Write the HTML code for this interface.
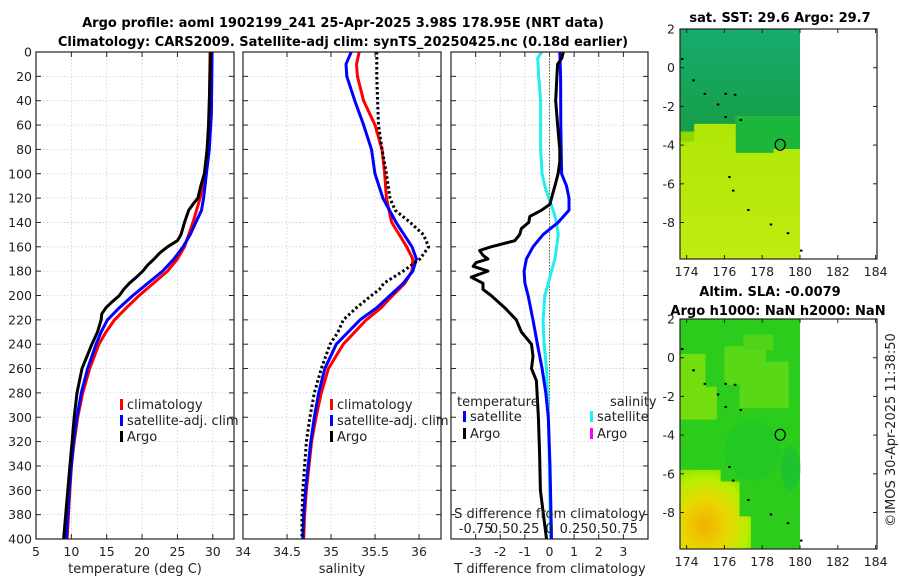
<!DOCTYPE html>
<html><head><meta charset="utf-8">
<style>
html,body{margin:0;padding:0;background:#fff;}
svg{display:block;font-family:"DejaVu Sans","Liberation Sans",sans-serif;}
</style></head>
<body>
<svg id="fig" width="900" height="580" viewBox="0 0 900 580" xmlns="http://www.w3.org/2000/svg">
<text x="343" y="27" font-size="13" font-weight="bold" text-anchor="middle">Argo profile: aoml 1902199_241 25-Apr-2025 3.98S 178.95E (NRT data)</text>
<text x="343" y="46" font-size="13" font-weight="bold" text-anchor="middle">Climatology: CARS2009. Satellite-adj clim: synTS_20250425.nc (0.18d earlier)</text>
<g id="panels"></g>
<g id="maps"></g>
<text transform="translate(895,430) rotate(-90)" font-size="13" text-anchor="middle" fill="#222">©IMOS 30-Apr-2025 11:38:50</text>
</svg>
<script>
// ---------- data ----------
const depthTicks=[0,20,40,60,80,100,120,140,160,180,200,220,240,260,280,300,320,340,360,380,400];
const tempTicks=[5,10,15,20,25,30];
const salTicks=[34,34.5,35,35.5,36];
const tdiffTicks=[-3,-2,-1,0,1,2,3];
const sdiffLabels=["-0.75","0.5","0.25","0","0.25","0.5","0.75"];

const tClimDepth=[0,50,80,100,120,140,150,160,170,180,190,200,210,220,230,240,260,280,300,320,340,360,380,400];
const tClim=[29.6,29.5,29.3,28.9,28.2,27.2,26.6,26,25,23.6,21.6,19.6,17.8,16.1,14.9,13.9,12.6,11.6,10.9,10.4,10,9.8,9.6,9.4];
const tSatDepth=[0,50,80,100,120,130,140,150,160,170,180,190,200,210,220,230,240,260,280,300,320,340,360,380,400];
const tSat=[29.9,29.8,29.5,29.1,28.7,28.4,27.6,26.8,25.8,24.5,22.9,20.8,18.7,16.8,15.1,14.2,13.5,12.3,11.4,10.8,10.3,10,9.7,9.5,9.3];
const tArgoDepth=[0,20,40,60,80,100,110,120,125,130,140,150,155,160,165,170,175,180,185,190,195,200,205,210,215,220,230,240,260,280,300,320,340,360,380,400];
const tArgo=[29.7,29.6,29.5,29.4,29.2,28.8,28.3,27.9,27.2,26.6,26,25.5,25,23.6,22.5,21.7,20.8,20.1,19.2,18.2,17.4,16.8,15.8,14.9,14.3,14.2,13.7,12.9,11.5,10.8,10.4,10.1,9.8,9.5,9.2,8.9];

const sDepth=[0,10,20,40,60,80,100,120,140,160,170,180,190,200,210,220,240,260,280,300,320,340,360,380,400];
const sClim=[35.32,35.29,35.3,35.37,35.5,35.58,35.61,35.63,35.69,35.86,35.93,35.92,35.84,35.7,35.57,35.4,35.14,34.97,34.89,34.83,34.78,34.75,34.72,34.7,34.69];
const sSat=[35.23,35.17,35.18,35.27,35.37,35.46,35.5,35.59,35.74,35.92,35.97,35.93,35.82,35.67,35.52,35.33,35.06,34.93,34.86,34.81,34.77,34.74,34.71,34.69,34.68];
const sArgoDepth=[0,20,40,60,80,100,120,130,140,150,160,170,180,190,195,200,210,220,230,240,260,280,300,320,340,360,380,400];
const sArgo=[35.52,35.52,35.53,35.54,35.58,35.63,35.67,35.73,35.9,36.05,36.11,36.01,35.82,35.6,35.55,35.46,35.29,35.14,35.08,34.99,34.89,34.81,34.76,34.72,34.7,34.68,34.67,34.67];

const dTSatDepth=[0,20,60,100,110,120,130,140,150,160,170,180,190,200,220,240,260,280,300,340,400];
const dTSat=[0.42,0.45,0.46,0.49,0.69,0.79,0.79,0.35,-0.26,-0.67,-0.94,-1.03,-1.0,-0.87,-0.67,-0.49,-0.3,-0.15,-0.05,0.02,0.08];
const dTArgoDepth=[0,5,10,20,40,60,80,90,100,110,120,125,130,135,140,145,150,155,160,163,167,170,173,176,180,185,190,195,200,210,220,230,240,250,260,270,300,330,360,400];
const dTArgo=[0.56,0.5,0.33,0.3,0.25,0.33,0.42,0.42,0.35,0.22,0.08,0.02,-0.33,-0.8,-0.84,-1.14,-1.21,-1.41,-2.37,-2.84,-2.7,-2.5,-2.98,-3.1,-2.5,-3.18,-2.7,-2.7,-2.37,-1.82,-1.35,-1.14,-0.73,-0.67,-0.73,-0.53,-0.45,-0.4,-0.37,-0.12];
const dSSatDepth=[0,5,20,40,60,80,100,110,120,130,140,150,160,170,180,190,200,220,240,260,300,350,400];
const dSSat=[-0.08,-0.12,-0.11,-0.09,-0.09,-0.09,-0.075,-0.048,-0.008,0.038,0.072,0.088,0.072,0.055,0.02,-0.012,-0.048,-0.065,-0.055,-0.03,-0.01,0.0,0.01];

// ---------- helpers ----------
const NS="http://www.w3.org/2000/svg";
function mk(parent,tag,attrs,text){const e=document.createElementNS(NS,tag);for(const k in attrs)e.setAttribute(k,attrs[k]);if(text!==undefined)e.textContent=text;parent.appendChild(e);return e;}
const Y0=52,Y1=539;
function yD(d){return Y0+d/400*(Y1-Y0);}
const panelsG=document.getElementById('panels');

function panel(name,x0,x1,dmin,dmax,ticks,labels,showY){
  const g=mk(panelsG,'g',{});
  
  
  const xs=v=>x0+(v-dmin)/(dmax-dmin)*(x1-x0);
  depthTicks.forEach((d,i)=>{
    if(i>0&&i<depthTicks.length-1){const gl=mk(g,'line',{x1:x0,x2:x1,y1:yD(d),y2:yD(d),stroke:'#c4cdec','stroke-width':0.8,'stroke-dasharray':'1.5,2'});
    
    }
    mk(g,'line',{x1:x0,x2:x0+5,y1:yD(d),y2:yD(d),stroke:'#222','stroke-width':1});
    mk(g,'line',{x1:x1-5,x2:x1,y1:yD(d),y2:yD(d),stroke:'#222','stroke-width':1});
    if(showY){const t=mk(g,'text',{x:x0-4,y:yD(d)+4.5,'font-size':12.5,'text-anchor':'end',fill:'#222'},String(d));
      
      }
  });
  ticks.forEach((v,i)=>{
    const x=xs(v);
    if(x>x0+1){const gl=mk(g,'line',{x1:x,x2:x,y1:Y0,y2:Y1,stroke:'#c4cdec','stroke-width':0.8,'stroke-dasharray':'1.5,2'});
    
    }
    mk(g,'line',{x1:x,x2:x,y1:Y1,y2:Y1-5,stroke:'#222'});
    mk(g,'line',{x1:x,x2:x,y1:Y0,y2:Y0+5,stroke:'#222'});
    const t=mk(g,'text',{x:x,y:556,'font-size':12.5,'text-anchor':'middle',fill:'#222'},labels[i]);
    
    
  });
  return {g,xs};
}
function line(g,name,xs,vals,depths,color,w,dash){
  const pts=vals.map((v,i)=>xs(v).toFixed(1)+','+yD(depths[i]).toFixed(1)).join(' ');
  const p=mk(g,'polyline',{points:pts,fill:'none',stroke:color,'stroke-width':w,'stroke-linejoin':'round'});
  if(dash)p.setAttribute('stroke-dasharray',dash);
  
  
}
function frame(g,x0,x1){mk(g,'rect',{x:x0,y:Y0,width:x1-x0,height:Y1-Y0,fill:'none',stroke:'#222','stroke-width':1.2});}
function legendItem(g,name,x,y,color,label){
  const e=mk(g,'g',{});
  
  
  mk(e,'rect',{x:x,y:y-10,width:3,height:11,fill:color});
  mk(e,'text',{x:x+7,y:y,'font-size':13,fill:'#222'},label);
}

// Panel 1
const p1=panel('temperature-panel',36,234,5,33,tempTicks,tempTicks.map(String),true);
line(p1.g,'temp-climatology-line',p1.xs,tClim,tClimDepth,'#f00',3);
line(p1.g,'temp-satellite-line',p1.xs,tSat,tSatDepth,'#00f',3);
line(p1.g,'temp-argo-line',p1.xs,tArgo,tArgoDepth,'#000',3);
frame(p1.g,36,234);
legendItem(p1.g,'legend-climatology',120,409,'#f00','climatology');
legendItem(p1.g,'legend-satellite',120,425,'#00f','satellite-adj. clim');
legendItem(p1.g,'legend-argo',120,441,'#000','Argo');
{const t=mk(p1.g,'text',{x:135,y:573,'font-size':13,'text-anchor':'middle',fill:'#222'},'temperature (deg C)');}

// Panel 2
const p2=panel('salinity-panel',243,441,34,36.25,salTicks,salTicks.map(String),false);
line(p2.g,'sal-climatology-line',p2.xs,sClim,sDepth,'#f00',3);
line(p2.g,'sal-satellite-line',p2.xs,sSat,sDepth,'#00f',3);
line(p2.g,'sal-argo-line',p2.xs,sArgo,sArgoDepth,'#000',3,'2.5,2.5');
frame(p2.g,243,441);
legendItem(p2.g,'legend-climatology-2',330,409,'#f00','climatology');
legendItem(p2.g,'legend-satellite-2',330,425,'#00f','satellite-adj. clim');
legendItem(p2.g,'legend-argo-2',330,441,'#000','Argo');
{const t=mk(p2.g,'text',{x:342,y:573,'font-size':13,'text-anchor':'middle',fill:'#222'},'salinity');}

// Panel 3
const p3=panel('difference-panel',451,648,-4,4,tdiffTicks,tdiffTicks.map(String),false);
const xsS=v=>p3.xs(v*4);
{const z=mk(p3.g,'line',{x1:p3.xs(0),x2:p3.xs(0),y1:Y0,y2:Y1,stroke:'#556b2f','stroke-width':1,'stroke-dasharray':'1.5,1.5'});}
line(p3.g,'salinity-diff-satellite-line',xsS,dSSat,dSSatDepth,'#22eeee',3);
line(p3.g,'temp-diff-satellite-line',p3.xs,dTSat,dTSatDepth,'#00f',3);
line(p3.g,'temp-diff-argo-line',p3.xs,dTArgo,dTArgoDepth,'#000',3);
frame(p3.g,451,648);
mk(p3.g,'text',{x:457,y:406,'font-size':13,fill:'#222'},'temperature');
mk(p3.g,'text',{x:610,y:406,'font-size':13,fill:'#222'},'salinity');
legendItem(p3.g,'legend-t-satellite',463,421,'#00f','satellite');
legendItem(p3.g,'legend-t-argo',463,438,'#000','Argo');
legendItem(p3.g,'legend-s-satellite',590,421,'#22eeee','satellite');
legendItem(p3.g,'legend-s-argo',590,438,'#f0f','Argo');
{const t=mk(p3.g,'text',{x:550,y:518,'font-size':13,'text-anchor':'middle',fill:'#222'},'S difference from climatology');}
tdiffTicks.forEach((v,i)=>{const t=mk(p3.g,'text',{x:p3.xs(v),y:533,'font-size':13,'text-anchor':'middle',fill:'#222'},sdiffLabels[i]);

});
{const t=mk(p3.g,'text',{x:550,y:573,'font-size':13,'text-anchor':'middle',fill:'#222'},'T difference from climatology');}

// ---------- maps ----------
const mapsG=document.getElementById('maps');
const lonTicks=[174,176,178,180,182,184];
const latTicks=[2,0,-2,-4,-6,-8];
const defs=mk(mapsG,'defs',{});
defs.innerHTML='<linearGradient id="sstTop" x1="0" y1="0" x2="0" y2="1"><stop offset="0" stop-color="#16ac6c"/><stop offset="1" stop-color="#169e48"/></linearGradient>'+
'<linearGradient id="sstBot" x1="0" y1="0" x2="0" y2="1"><stop offset="0" stop-color="#a4e200"/><stop offset="1" stop-color="#c0ec10"/></linearGradient>'+
'<radialGradient id="slaBlob" cx="0.35" cy="0.7" r="0.75"><stop offset="0" stop-color="#f2b000"/><stop offset="0.45" stop-color="#e8d800"/><stop offset="0.8" stop-color="#b8ee00"/><stop offset="1" stop-color="#90e400"/></radialGradient>';
function mapAxes(name,top){
  const g=mk(mapsG,'g',{});
  
  
  const x0=680,x1=877,bottom=top+230;
  const lx=v=>x0+(v-173.65)*18.9;
  const ly=v=>top+(2-v)*19.35;
  return {g,x0,x1,top,bottom,lx,ly};
}
function finishMap(m){
  const g=m.g;
  const c=mk(g,'ellipse',{cx:m.lx(178.95),cy:m.ly(-3.98),rx:5,ry:5.5,fill:'none',stroke:'#000','stroke-width':1.2});
  
  
  [[173.7,0.5],[174.3,-0.6],[174.9,-1.3],[175.6,-1.85],[176,-1.3],[176.5,-1.35],[176,-2.5],[176.8,-2.65],[176.2,-5.6],[176.4,-6.3],[177.2,-7.3],[178.4,-8.05],[179.3,-8.5],[180,-9.4]].forEach(p=>{
    mk(g,'rect',{x:m.lx(p[0]),y:m.ly(p[1]),width:2.5,height:2,fill:'#000'});
  });
  mk(g,'rect',{x:m.x0,y:m.top,width:m.x1-m.x0,height:m.bottom-m.top,fill:'none',stroke:'#222','stroke-width':1.2});
  lonTicks.forEach(v=>{const x=m.lx(v);
    mk(g,'line',{x1:x,x2:x,y1:m.bottom,y2:m.bottom-4,stroke:'#222'});
    mk(g,'line',{x1:x,x2:x,y1:m.top,y2:m.top+4,stroke:'#222'});
    const t=mk(g,'text',{x:x,y:m.bottom+17,'font-size':12.5,'text-anchor':'middle',fill:'#222'},String(v));
    
    });
  latTicks.forEach(v=>{const y=m.ly(v);
    mk(g,'line',{x1:m.x0,x2:m.x0+4,y1:y,y2:y,stroke:'#222'});
    mk(g,'line',{x1:m.x1-4,x2:m.x1,y1:y,y2:y,stroke:'#222'});
    const t=mk(g,'text',{x:m.x0-5,y:y+4.5,'font-size':12.5,'text-anchor':'end',fill:'#222'},String(v));
    
    });
}
// SST map
const m1=mapAxes('sst-map',29);
{const w=m1.lx(180)-m1.x0, h=m1.ly(-9.9)-m1.top;
 mk(m1.g,'rect',{x:m1.x0,y:m1.top,width:w,height:h,fill:'url(#sstBot)'});
 mk(m1.g,'path',{d:`M${m1.x0} ${m1.top} H${m1.lx(180)} V${m1.ly(-2.5)} H${m1.lx(176.6)} V${m1.ly(-2.9)} H${m1.lx(175)} V${m1.ly(-2.9)} H${m1.lx(174.4)} V${m1.ly(-3.3)} H${m1.x0} Z`,fill:'url(#sstTop)'});
 mk(m1.g,'path',{d:`M${m1.lx(176.6)} ${m1.ly(-2.5)} H${m1.lx(180)} V${m1.ly(-4.2)} H${m1.lx(178.6)} V${m1.ly(-4.4)} H${m1.lx(176.6)} Z`,fill:'#1cb63a'});
 mk(m1.g,'rect',{x:m1.x0,y:m1.ly(-3.3),width:m1.lx(174.4)-m1.x0,height:10,fill:'#8ed800'});
 const t=mk(m1.g,'text',{x:780,y:22,'font-size':13,'font-weight':'bold','text-anchor':'middle'},'sat. SST: 29.6 Argo: 29.7');
 }
finishMap(m1);
// SLA map
const m2=mapAxes('sla-map',319);
{const w=m2.lx(180)-m2.x0, h=m2.ly(-9.9)-m2.top;
 mk(m2.g,'rect',{x:m2.x0,y:m2.top,width:w,height:h,fill:'#2ccc1c'});
 mk(m2.g,'path',{d:`M${m2.x0} ${m2.ly(0.2)} H${m2.lx(175)} V${m2.ly(-1.5)} H${m2.lx(175.6)} V${m2.ly(-3.2)} H${m2.x0} Z`,fill:'#74dd10'});
 mk(m2.g,'path',{d:`M${m2.lx(176)} ${m2.ly(0.6)} H${m2.lx(178.2)} V${m2.ly(-0.2)} H${m2.lx(179.4)} V${m2.ly(-2.6)} H${m2.lx(176.8)} V${m2.ly(-1.4)} H${m2.lx(176)} Z`,fill:'#58d816'});
 mk(m2.g,'path',{d:`M${m2.lx(177)} ${m2.ly(1.2)} H${m2.lx(178.6)} V${m2.ly(0.4)} H${m2.lx(177)} Z`,fill:'#50d418'});
 mk(m2.g,'path',{d:`M${m2.x0} ${m2.ly(-5.8)} H${m2.lx(175.8)} V${m2.ly(-6.4)} H${m2.lx(176.8)} V${m2.ly(-8.2)} H${m2.lx(177.4)} V${m2.ly(-9.9)} H${m2.x0} Z`,fill:'url(#slaBlob)'});
 mk(m2.g,'ellipse',{cx:m2.lx(177.5),cy:m2.ly(-4.8),rx:28,ry:30,fill:'#20c428',opacity:0.6});
 mk(m2.g,'ellipse',{cx:m2.lx(179.5),cy:m2.ly(-5.7),rx:10,ry:22,fill:'#18bc38',opacity:0.6});
 const t1=mk(m2.g,'text',{x:770,y:296,'font-size':13,'font-weight':'bold','text-anchor':'middle'},'Altim. SLA: -0.0079');
 
 const t2=mk(m2.g,'text',{x:778,y:315,'font-size':13,'font-weight':'bold','text-anchor':'middle'},'Argo h1000: NaN h2000: NaN');
 }
finishMap(m2);
</script>
</body></html>
